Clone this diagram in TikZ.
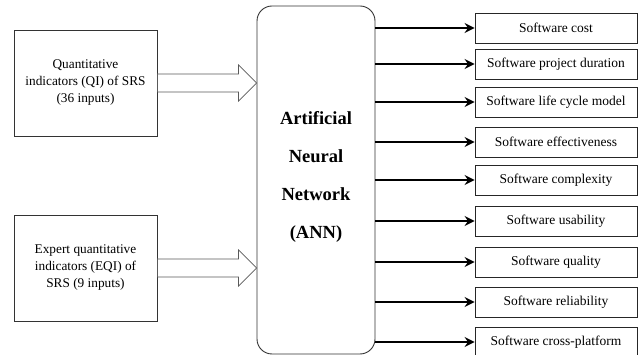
\documentclass[tikz,border=0pt]{standalone}
\usepackage{fontspec}
\setmainfont{Liberation Serif}
\usetikzlibrary{positioning,arrows.meta,calc}
\tikzset{
  inbox/.style={draw=black!80, line width=0.9pt, minimum width=143pt,
    minimum height=106pt, align=center, inner sep=2pt,
    font=\fontsize{13.3}{17}\selectfont},
  annbox/.style={draw=black!80, line width=0.9pt, rounded corners=15pt,
    minimum width=118pt, minimum height=348pt, align=center,
    font=\fontsize{18.5}{38}\selectfont\bfseries},
  outbox/.style={draw=black!85, line width=0.9pt, minimum width=162pt,
    minimum height=30pt, inner sep=1pt, font=\fontsize{13.5}{15}\selectfont},
  flow/.style={-{Stealth[length=10pt, width=10pt, inset=3.5pt]}, line width=1.4pt},
  hollow/.style={draw=black!65, line width=0.7pt, fill=white},
}
% wide open arrow from one box to another
\newcommand{\fatarrow}[2]{%
  \draw[hollow] let \p1=(#1.east), \p2=(#2.west) in
    (\x1,\y1+9pt) -- (\x2-18pt,\y1+9pt) -- (\x2-18pt,\y1+18pt) -- (\x2,\y1)
    -- (\x2-18pt,\y1-18pt) -- (\x2-18pt,\y1-9pt) -- (\x1,\y1-9pt) -- cycle;}
\begin{document}
\begin{tikzpicture}[x=1pt,y=-1pt]
\useasboundingbox (0,0) rectangle (643,355);
% inputs
\node[inbox] (qi) at (85.5,83) {Quantitative\\indicators (QI) of SRS\\(36 inputs)};
\node[inbox] (eqi) at (85.5,268) {Expert quantitative\\indicators (EQI) of\\SRS (9 inputs)};
% network (text sits a little above the middle)
\node[annbox, text depth=10pt] (ann) at (316,180) {Artificial\\Neural\\Network\\(ANN)};
\fatarrow{qi}{ann}
\fatarrow{eqi}{ann}
% outputs
\node[outbox] (cost) at (556,28) {Software cost};
\node[outbox] (duration) at (556,64) {Software project duration};
\node[outbox] (lifecycle) at (556,102) {Software life cycle model};
\node[outbox] (effect) at (556,142) {Software effectiveness};
\node[outbox] (complex) at (556,180) {Software complexity};
\node[outbox] (usab) at (556,221) {Software usability};
\node[outbox] (quality) at (556,262) {Software quality};
\node[outbox] (reliab) at (556,302) {Software reliability};
\node[outbox] (xplat) at (556,342) {Software cross-platform};
% flows
\draw[flow, line width=2.2pt] (ann.east |- cost) -- (cost);
\draw[flow] (ann.east |- duration) -- (duration);
\draw[flow] (ann.east |- lifecycle) -- (lifecycle);
\draw[flow] (ann.east |- effect) -- (effect);
\draw[flow] (ann.east |- complex) -- (complex);
\draw[flow] (ann.east |- usab) -- (usab);
\draw[flow] (ann.east |- quality) -- (quality);
\draw[flow] (ann.east |- reliab) -- (reliab);
\draw[flow] (ann.east |- xplat) -- (xplat);
\end{tikzpicture}
\end{document}
